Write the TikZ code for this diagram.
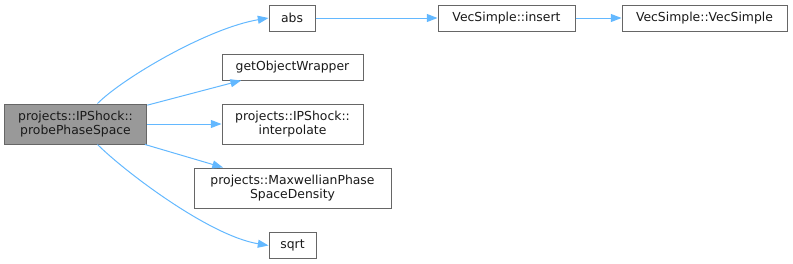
\documentclass[tikz,border=0pt]{standalone}
\usepackage{fontspec}
\setmainfont{DejaVu Sans}
\usetikzlibrary{arrows.meta, positioning}
\definecolor{edgeblue}{HTML}{63B8FF}
\definecolor{boxgrey}{HTML}{666666}
\definecolor{maingrey}{HTML}{999999}
\definecolor{textgrey}{HTML}{1A1A1A}
\tikzset{
  fnode/.style={
    rectangle, draw=boxgrey, fill=white, line width=0.75pt,
    minimum height=19.5pt, inner sep=0pt, align=center,
    font=\fontsize{9.3}{9}\selectfont, text=textgrey
  },
  mainnode/.style={fnode, fill=maingrey},
  call/.style={-{Triangle[length=8pt, width=6pt]}, draw=edgeblue, line width=0.75pt},
}
\begin{document}
\begin{tikzpicture}[x=0.75pt, y=-0.75pt]
\useasboundingbox (0,0) rectangle (793,264);

\node[mainnode, minimum width=107pt, minimum height=30pt] (probe) at (75.5,124) {projects::IPShock::\\probePhaseSpace};
\node[fnode, minimum width=34.5pt] (abs) at (292,18) {abs};
\node[fnode, minimum width=102.75pt] (insert) at (506.5,18) {VecSimple::insert};
\node[fnode, minimum width=123.75pt] (vecsimple) at (704.5,18) {VecSimple::VecSimple};
\node[fnode, minimum width=105.75pt] (getobj) at (292.5,67) {getObjectWrapper};
\node[fnode, minimum width=105.75pt, minimum height=30pt] (interp) at (292.5,124) {projects::IPShock::\\interpolate};
\node[fnode, minimum width=147.75pt, minimum height=30pt] (maxwell) at (292.5,188) {projects::MaxwellianPhase\\SpaceDensity};
\node[fnode, minimum width=35.25pt] (sqrt) at (292.5,245.5) {sqrt};

\draw[call] ([xshift=16.5pt]probe.north) .. controls +(26,-26) and +(-60,10) .. (abs.west);
\draw[call] (probe) -- (getobj);
\draw[call] (probe) -- (interp);
\draw[call] (probe) -- (maxwell);
\draw[call] ([xshift=16.5pt]probe.south) .. controls +(26,26) and +(-60,-10) .. (sqrt.west);
\draw[call] (abs) -- (insert);
\draw[call] (insert) -- (vecsimple);

\end{tikzpicture}
\end{document}
